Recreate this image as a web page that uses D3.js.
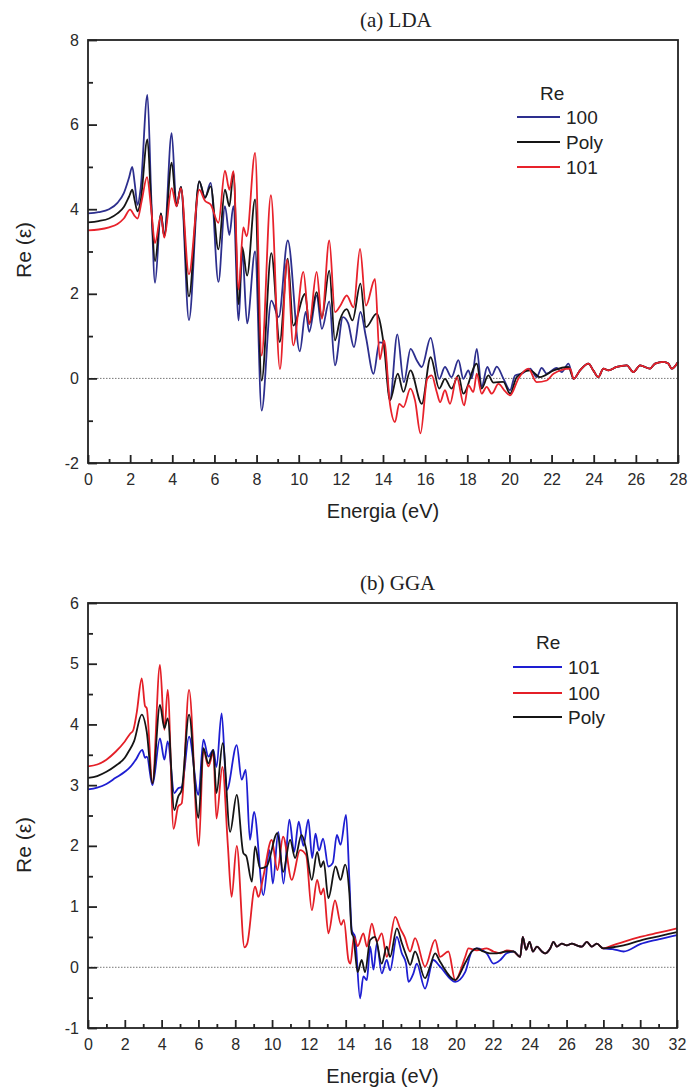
<!DOCTYPE html>
<html>
<head>
<meta charset="utf-8">
<script src="https://cdn.jsdelivr.net/npm/d3@7"></script>
<style>
  body { margin: 0; background: #fff; }
  svg { display: block; }
</style>
</head>
<body>
<script>
// ---------- (a) LDA : Re(ε) versus energy (eV) ----------
const ldaRe100 = [
  [0,3.90],[0.5,3.93],[1.0,4.00],[1.4,4.15],[1.7,4.38],[1.95,4.75],[2.1,5.0],[2.22,4.6],[2.35,4.1],
  [2.5,4.5],[2.82,6.7],[3.0,4.3],[3.18,2.26],[3.46,3.9],[3.62,3.36],[3.97,5.8],[4.2,4.07],[4.41,4.53],
  [4.79,1.38],[5.28,4.66],[5.55,4.27],[5.82,4.62],[6.19,2.28],[6.5,4.07],[6.71,3.39],[6.9,4.07],
  [7.15,1.37],[7.32,3.0],[7.55,1.3],[7.93,3.0],[8.24,-0.76],[8.7,1.84],[9.05,1.45],[9.48,3.26],
  [10.05,0.64],[10.33,1.57],[10.5,1.1],[10.85,1.96],[11.1,1.17],[11.45,1.82],[11.72,0.31],[12.1,1.45],
  [12.35,1.3],[12.62,0.74],[12.93,1.57],[13.19,0.98],[13.55,0.11],[13.83,0.85],[14.05,0.82],
  [14.33,-0.52],[14.68,1.04],[14.99,-0.09],[15.31,0.70],[15.6,0.43],[15.84,0.27],[16.26,0.96],
  [16.67,-0.01],[16.94,0.27],[17.25,0.03],[17.58,0.43],[17.81,-0.01],[18.05,0.19],[18.21,0.0],
  [18.45,0.70],[18.68,-0.2],[18.95,0.27],[19.16,0.07],[19.4,0.28],[19.71,0.0],[20.03,-0.28],
  [20.27,0.07],[20.58,0.11],[20.98,0.23],[21.29,0.03],[21.53,0.25],[21.77,0.11],[22.24,0.25],
  [22.48,0.15],[22.8,0.35]
];
const ldaRePoly = [
  [0,3.69],[0.5,3.72],[1.0,3.78],[1.4,3.90],[1.7,4.05],[1.95,4.3],[2.1,4.46],[2.22,4.2],[2.35,3.95],
  [2.5,4.2],[2.82,5.65],[3.0,4.1],[3.18,2.77],[3.46,3.9],[3.62,3.36],[3.97,5.1],[4.2,4.07],[4.41,4.53],
  [4.79,1.94],[5.28,4.66],[5.55,4.27],[5.82,4.54],[6.19,3.05],[6.5,4.46],[6.71,4.07],[6.9,4.86],
  [7.15,1.75],[7.32,3.1],[7.55,2.43],[7.93,4.23],[8.24,-0.05],[8.7,2.96],[9.1,0.86],[9.48,2.83],
  [9.74,1.25],[10.3,2.0],[10.5,1.29],[10.85,2.04],[11.1,1.45],[11.45,2.55],[11.72,0.9],[11.95,1.37],
  [12.28,1.64],[12.55,1.37],[12.93,2.24],[13.19,1.21],[13.7,1.53],[14.05,0.75],[14.33,-0.52],
  [14.7,0.11],[14.97,-0.32],[15.3,0.19],[15.84,-0.6],[16.26,0.5],[16.67,-0.24],[16.94,-0.01],
  [17.25,-0.24],[17.58,0.07],[17.81,-0.36],[18.45,0.35],[18.68,-0.24],[19.0,0.07],[19.24,-0.1],
  [19.71,-0.08],[20.03,-0.36],[20.35,0.03],[20.98,0.19],[21.45,0.03],[22.1,0.19],[22.8,0.27]
];
const ldaRe101 = [
  [0,3.50],[0.5,3.52],[1.0,3.57],[1.4,3.65],[1.7,3.78],[2.0,3.99],[2.2,3.85],[2.35,3.78],[2.55,4.2],
  [2.8,4.76],[3.0,4.0],[3.18,3.2],[3.46,3.85],[3.62,3.33],[3.97,4.5],[4.2,4.07],[4.41,4.5],[4.79,2.46],
  [5.28,4.46],[5.55,4.2],[5.82,4.11],[6.19,3.68],[6.5,4.91],[6.71,4.46],[6.9,4.9],[7.15,2.1],
  [7.37,3.57],[7.53,3.36],[7.93,5.33],[8.24,0.54],[8.68,4.33],[9.11,0.22],[9.45,2.8],[9.74,0.78],
  [10.22,2.52],[10.5,1.29],[10.85,2.52],[11.1,1.41],[11.45,3.26],[11.72,1.57],[11.95,1.7],
  [12.28,1.96],[12.6,1.68],[12.91,3.06],[13.19,1.72],[13.62,2.35],[13.85,0.45],[14.05,0.9],
  [14.33,-0.6],[14.57,-1.03],[14.77,-0.6],[14.97,-0.68],[15.3,-0.24],[15.52,-0.52],[15.78,-1.3],
  [16.1,-0.01],[16.31,0.07],[16.55,-0.32],[16.71,-0.56],[16.94,-0.28],[17.18,-0.6],[17.5,0.03],
  [17.85,-0.64],[18.05,-0.16],[18.29,-0.32],[18.45,0.11],[18.68,-0.36],[18.92,-0.2],[19.16,-0.36],
  [19.48,-0.13],[19.79,-0.3],[20.03,-0.4],[20.43,0.0],[20.9,0.23],[21.29,-0.09],[21.77,-0.05],
  [22.09,0.11],[22.88,0.23]
];
// above ~23 eV the three LDA curves coincide
const ldaTail = [
  [23.05,-0.01],[23.35,0.19],[23.75,0.35],[23.98,0.19],[24.22,0.03],[24.46,0.23],[24.7,0.19],
  [25.09,0.27],[25.57,0.31],[25.88,0.15],[26.2,0.31],[26.67,0.23],[26.91,0.35],[27.31,0.39],
  [27.54,0.35],[27.7,0.23],[28.0,0.39]
];

// ---------- (b) GGA : Re(ε) versus energy (eV) ----------
const ggaRe101 = [
  [0,2.93],[0.5,2.96],[1.0,3.02],[1.5,3.12],[2.0,3.22],[2.3,3.3],[2.6,3.42],[2.95,3.58],[3.1,3.45],
  [3.2,3.47],[3.5,3.0],[3.91,3.77],[4.15,3.42],[4.33,3.72],[4.69,2.87],[4.9,2.95],[5.09,2.97],
  [5.49,3.8],[6.0,2.84],[6.27,3.75],[6.54,3.47],[6.81,3.58],[6.98,3.3],[7.26,4.18],[7.54,2.92],
  [8.08,3.66],[8.35,3.09],[8.57,3.25],[8.8,2.1],[9.02,2.56],[9.53,1.19],[9.86,1.93],[10.04,1.38],
  [10.34,2.23],[10.62,1.38],[10.94,2.43],[11.2,1.9],[11.45,2.4],[11.7,2.0],[11.97,2.43],[12.18,1.8],
  [12.36,2.2],[12.55,1.92],[12.77,2.12],[13.06,1.66],[13.3,1.72],[13.52,2.18],[13.72,2.02],
  [14.02,2.51],[14.2,1.44],[14.33,0.61],[14.51,0.5],[14.78,-0.51],[14.96,-0.15],[15.15,-0.21],
  [15.33,0.34],[15.51,-0.04],[15.69,0.39],[15.96,-0.1],[16.23,0.12],[16.41,-0.05],[16.78,0.5],
  [17.05,0.23],[17.28,0.06],[17.41,-0.24],[17.68,-0.1],[17.86,0.06],[18.31,-0.35],[18.76,0.12],
  [19.13,0.01],[19.95,-0.24],[20.49,-0.08],[20.85,0.26],[21.12,0.31],[21.66,0.23],[22.03,0.06],
  [22.4,0.12],[22.75,0.23]
];
const ggaRe100 = [
  [0,3.31],[0.5,3.34],[1.0,3.42],[1.5,3.55],[2.0,3.72],[2.3,3.85],[2.45,3.9],[2.65,4.2],[2.92,4.76],
  [3.1,4.3],[3.19,4.27],[3.5,3.03],[3.91,4.98],[4.15,3.91],[4.33,4.57],[4.65,2.28],[4.9,2.65],
  [5.09,2.7],[5.49,4.57],[6.02,2.0],[6.27,3.58],[6.54,3.31],[6.81,3.53],[6.98,2.45],[7.3,3.3],
  [7.6,2.0],[7.8,1.16],[8.08,2.0],[8.5,0.33],[8.65,0.39],[9.08,1.33],[9.26,1.16],[9.53,1.5],
  [9.98,2.1],[10.29,1.6],[10.6,2.15],[11.07,1.44],[11.52,1.93],[11.85,1.85],[12.16,0.94],
  [12.45,1.44],[12.65,1.2],[12.8,1.3],[13.06,0.56],[13.42,1.1],[13.75,0.7],[13.9,0.78],[14.15,0.12],
  [14.26,0.06],[14.45,0.5],[14.65,0.35],[14.96,0.56],[15.15,0.34],[15.42,0.72],[15.69,0.42],
  [15.96,0.56],[16.23,0.17],[16.69,0.83],[16.96,0.64],[17.2,0.5],[17.5,0.26],[17.77,0.48],
  [18.31,0.01],[18.86,0.45],[19.13,0.17],[19.58,0.26],[19.95,-0.21],[20.49,0.17],[20.67,0.31],
  [21.12,0.28],[21.66,0.31],[22.03,0.26],[22.4,0.23],[22.75,0.28]
];
const ggaRePoly = [
  [0,3.12],[0.5,3.15],[1.0,3.22],[1.5,3.32],[2.0,3.45],[2.2,3.55],[2.5,3.72],[2.92,4.16],[3.19,3.88],
  [3.5,3.03],[3.91,4.32],[4.15,3.94],[4.33,4.1],[4.69,2.59],[4.9,2.81],[5.09,2.92],[5.49,4.16],
  [6.0,2.46],[6.27,3.61],[6.54,3.36],[6.81,3.58],[6.98,2.87],[7.32,3.69],[7.72,2.23],[8.08,2.84],
  [8.44,1.88],[8.6,1.83],[8.9,1.41],[9.08,1.99],[9.35,1.63],[9.7,1.66],[10.29,2.21],[10.6,1.57],
  [10.98,2.1],[11.25,1.8],[11.6,2.18],[11.85,1.95],[12.16,1.44],[12.45,1.9],[12.65,1.65],[12.8,1.75],
  [13.06,1.14],[13.45,1.66],[13.72,1.44],[13.97,1.69],[14.2,1.22],[14.33,0.56],[14.42,0.5],
  [14.65,-0.08],[14.87,0.12],[15.05,-0.08],[15.33,0.45],[15.6,0.5],[15.96,0.06],[16.23,0.34],
  [16.41,0.17],[16.78,0.64],[17.05,0.4],[17.32,0.17],[17.5,0.04],[17.77,0.26],[18.31,-0.18],
  [18.58,0.01],[18.86,0.23],[19.13,0.09],[19.95,-0.21],[20.49,0.07],[20.85,0.26],[21.12,0.31],
  [21.48,0.26],[21.84,0.23],[22.2,0.23],[22.75,0.26]
];
// between ~23 and 28 eV the three GGA curves coincide
const ggaTail = [
  [23.12,0.26],[23.48,0.17],[23.62,0.5],[23.8,0.29],[23.99,0.42],[24.17,0.26],[24.39,0.34],
  [24.66,0.26],[24.84,0.23],[25.11,0.31],[25.29,0.42],[25.47,0.34],[25.74,0.39],[26.01,0.36],
  [26.29,0.39],[26.56,0.36],[26.83,0.34],[27.1,0.42],[27.37,0.34],[27.64,0.39],[28.0,0.31]
];
const ggaEnd101  = [[28.5,0.30],[29.1,0.26],[30.0,0.38],[31.0,0.46],[32.0,0.53]];
const ggaEnd100  = [[28.5,0.36],[29.1,0.42],[30.0,0.50],[31.0,0.57],[32.0,0.64]];
const ggaEndPoly = [[28.5,0.33],[29.1,0.36],[30.0,0.44],[31.0,0.51],[32.0,0.58]];

// tick labels
const ldaXTicks = [0,2,4,6,8,10,12,14,16,18,20,22,24,26,28];
const ldaYTicks = [-2,0,2,4,6,8];
const ggaXTicks = [0,2,4,6,8,10,12,14,16,18,20,22,24,26,28,30,32];
const ggaYTicks = [-1,0,1,2,3,4,5,6];

const W = 690, H = 1092;
const sansFont = "Arial, 'Liberation Sans', Helvetica, sans-serif";
const serifFont = "'Times New Roman', 'Liberation Serif', Times, serif";

const svg = d3.select("body").append("svg")
  .attr("width", W).attr("height", H)
  .attr("viewBox", `0 0 ${W} ${H}`);
svg.append("rect").attr("width", W).attr("height", H).attr("fill", "#fff");

function drawPanel(p) {
  const x = d3.scaleLinear().domain([0, p.xMax]).range([p.left, p.right]);
  const y = d3.scaleLinear().domain([p.yMin, p.yMax]).range([p.bottom, p.top]);
  const g = svg.append("g");

  // zero reference line
  g.append("line")
    .attr("x1", x(0)).attr("x2", x(p.xMax))
    .attr("y1", y(0)).attr("y2", y(0))
    .attr("stroke", "#777").attr("stroke-width", 1)
    .attr("stroke-dasharray", "1.5,1.5");

  // curves
  const line = d3.line()
    .x(d => x(d[0])).y(d => y(d[1]))
    .curve(d3.curveMonotoneX);
  p.series.forEach(s => {
    g.append("path")
      .datum(s.data)
      .attr("d", line)
      .attr("fill", "none")
      .attr("stroke", s.color)
      .attr("stroke-width", 1.8)
      .attr("stroke-linejoin", "round");
  });

  // frame
  g.append("rect")
    .attr("x", p.left).attr("y", p.top)
    .attr("width", p.right - p.left).attr("height", p.bottom - p.top)
    .attr("fill", "none").attr("stroke", "#222").attr("stroke-width", 1.8);

  // axes: major ticks labelled, minor ticks in between, all pointing inward
  const xMinor = p.xTicks.slice(0, -1).map((d, i) => (d + p.xTicks[i + 1]) / 2);
  const yMinor = p.yTicks.slice(0, -1).map((d, i) => (d + p.yTicks[i + 1]) / 2);

  const xa = g.append("g").attr("transform", `translate(0,${p.bottom})`)
    .call(d3.axisBottom(x).tickValues(p.xTicks).tickSize(-8).tickPadding(11)
      .tickFormat(d => String(d)));
  const xm = g.append("g").attr("transform", `translate(0,${p.bottom})`)
    .call(d3.axisBottom(x).tickValues(xMinor).tickSize(-4).tickFormat(""));
  const ya = g.append("g").attr("transform", `translate(${p.left},0)`)
    .call(d3.axisLeft(y).tickValues(p.yTicks).tickSize(-9).tickPadding(9)
      .tickFormat(d => String(d)));
  const ym = g.append("g").attr("transform", `translate(${p.left},0)`)
    .call(d3.axisLeft(y).tickValues(yMinor).tickSize(-5).tickFormat(""));

  [xa, xm, ya, ym].forEach(a => {
    a.select(".domain").remove();
    a.selectAll(".tick line").attr("stroke", "#222").attr("stroke-width", 1.8);
    a.selectAll(".tick text")
      .attr("font-family", sansFont).attr("font-size", 16).attr("fill", "#2a2a2a");
  });

  // titles and axis labels
  g.append("text")
    .attr("x", p.titleX).attr("y", p.titleY)
    .attr("font-family", serifFont).attr("font-size", 21).attr("fill", "#222")
    .text(p.title);

  g.append("text")
    .attr("x", (p.left + p.right) / 2).attr("y", p.xLabelY)
    .attr("text-anchor", "middle")
    .attr("font-family", sansFont).attr("font-size", 20).attr("fill", "#222")
    .text("Energia (eV)");

  g.append("text")
    .attr("transform", `translate(${p.yLabelX},${p.yLabelCY}) rotate(-90)`)
    .attr("text-anchor", "middle")
    .attr("font-family", sansFont).attr("font-size", 21).attr("fill", "#222")
    .text("Re (ε)");

  // legend
  const lg = g.append("g");
  lg.append("text")
    .attr("x", p.legend.x + 23).attr("y", p.legend.titleY)
    .attr("font-family", sansFont).attr("font-size", 19).attr("fill", "#222")
    .text("Re");
  p.legendOrder.forEach((s, i) => {
    const yy = p.legend.rowY[i];
    lg.append("line")
      .attr("x1", p.legend.x).attr("x2", p.legend.x + p.legend.len)
      .attr("y1", yy).attr("y2", yy)
      .attr("stroke", s.color).attr("stroke-width", 1.8);
    lg.append("text")
      .attr("x", p.legend.x + p.legend.len + 6).attr("y", yy + 7)
      .attr("font-family", sansFont).attr("font-size", 19).attr("fill", "#222")
      .text(s.name);
  });
}

// (a) LDA
const lda100  = { name: "100",  color: "#2d2f8e", data: ldaRe100.concat(ldaTail) };
const ldaPoly = { name: "Poly", color: "#151515", data: ldaRePoly.concat(ldaTail) };
const lda101  = { name: "101",  color: "#e8222b", data: ldaRe101.concat(ldaTail) };
drawPanel({
  left: 88, right: 678, top: 40, bottom: 463,
  xMax: 28, yMin: -2, yMax: 8,
  xTicks: ldaXTicks, yTicks: ldaYTicks,
  series: [lda100, ldaPoly, lda101],
  legendOrder: [lda100, ldaPoly, lda101],
  title: "(a) LDA", titleX: 360, titleY: 27,
  xLabelY: 518, yLabelX: 31, yLabelCY: 250,
  legend: { x: 517, len: 43, titleY: 100, rowY: [117, 142, 167] }
});

// (b) GGA
const gga101  = { name: "101",  color: "#1e1ed2", data: ggaRe101.concat(ggaTail, ggaEnd101) };
const gga100  = { name: "100",  color: "#e41f27", data: ggaRe100.concat(ggaTail, ggaEnd100) };
const ggaPoly = { name: "Poly", color: "#151515", data: ggaRePoly.concat(ggaTail, ggaEndPoly) };
drawPanel({
  left: 88, right: 677, top: 603, bottom: 1028,
  xMax: 32, yMin: -1, yMax: 6,
  xTicks: ggaXTicks, yTicks: ggaYTicks,
  series: [gga101, gga100, ggaPoly],
  legendOrder: [gga101, gga100, ggaPoly],
  title: "(b) GGA", titleX: 360, titleY: 590,
  xLabelY: 1083, yLabelX: 31, yLabelCY: 845,
  legend: { x: 513, len: 49, titleY: 649, rowY: [667, 693, 717] }
});
</script>
</body>
</html>
